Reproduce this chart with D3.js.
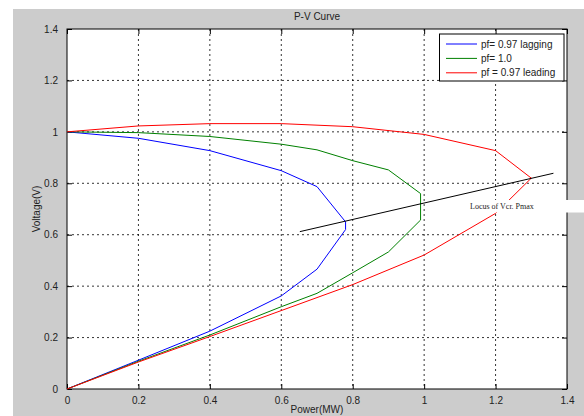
<!DOCTYPE html>
<html>
<head>
<meta charset="utf-8">
<script src="https://cdn.jsdelivr.net/npm/d3@7"></script>
<style>
  body { margin: 0; background: #fff; }
  text { font-family: Arial, "Liberation Sans", sans-serif; }
</style>
</head>
<body>
<div id="chart"></div>
<script>
// P (MW), V for each power factor
const lagP = [0, 0.2, 0.4, 0.6, 0.7, 0.78, 0.78, 0.7, 0.6, 0.4, 0.2, 0];
const lagV = [0, 0.112, 0.225, 0.362, 0.466, 0.62, 0.65, 0.787, 0.849, 0.927, 0.975, 1.0];

const unityP = [0, 0.2, 0.4, 0.6, 0.7, 0.8, 0.9, 0.99, 0.99, 0.9, 0.8, 0.7, 0.6, 0.4, 0.2, 0];
const unityV = [0, 0.108, 0.21, 0.32, 0.372, 0.452, 0.533, 0.657, 0.76, 0.852, 0.888, 0.93, 0.952, 0.982, 0.997, 1.0];

const leadP = [0, 0.2, 0.4, 0.6, 0.8, 1.0, 1.2, 1.3, 1.2, 1.0, 0.8, 0.6, 0.4, 0.2, 0];
const leadV = [0, 0.105, 0.204, 0.305, 0.406, 0.521, 0.683, 0.82, 0.927, 0.99, 1.02, 1.032, 1.032, 1.023, 1.0];

const locusP = [0.652, 1.362];
const locusV = [0.612, 0.839];

const seriesNames = ["pf= 0.97 lagging", "pf= 1.0", "pf = 0.97 leading"];
const seriesColors = ["#0000ff", "#008000", "#ff0000"];
const ticks = [0, 0.2, 0.4, 0.6, 0.8, 1, 1.2, 1.4];

const W = 584, H = 416;
const plot = { left: 67, right: 567, top: 29, bottom: 389 };

const svg = d3.select("#chart").append("svg").attr("width", W).attr("height", H);

// figure background
svg.append("rect").attr("x", 13).attr("y", 9).attr("width", W - 13).attr("height", H - 9).attr("fill", "#cccccc");
svg.append("rect").attr("x", plot.left).attr("y", plot.top)
  .attr("width", plot.right - plot.left).attr("height", plot.bottom - plot.top).attr("fill", "#fff");

const x = d3.scaleLinear().domain([0, 1.4]).range([plot.left, plot.right]);
const y = d3.scaleLinear().domain([0, 1.4]).range([plot.bottom, plot.top]);

// grid
const grid = svg.append("g").attr("stroke", "#000").attr("stroke-width", 0.8).attr("stroke-dasharray", "2,3");
grid.selectAll("line.gx").data(ticks.slice(1, -1)).enter().append("line")
  .attr("x1", d => x(d)).attr("x2", d => x(d)).attr("y1", plot.top).attr("y2", plot.bottom);
grid.selectAll("line.gy").data(ticks.slice(1, -1)).enter().append("line")
  .attr("y1", d => y(d)).attr("y2", d => y(d)).attr("x1", plot.left).attr("x2", plot.right);

// axes
const xAxis = svg.append("g").attr("transform", `translate(0,${plot.bottom})`)
  .call(d3.axisBottom(x).tickValues(ticks).tickFormat(d3.format("")).tickSizeInner(-5).tickSizeOuter(0).tickPadding(8));
const yAxis = svg.append("g").attr("transform", `translate(${plot.left},0)`)
  .call(d3.axisLeft(y).tickValues(ticks).tickFormat(d3.format("")).tickSizeInner(-5).tickSizeOuter(0).tickPadding(9));
[xAxis, yAxis].forEach(a => {
  a.select(".domain").remove();
  a.selectAll("text").attr("font-size", 10).attr("fill", "#222");
});

// frame
svg.append("rect").attr("x", plot.left).attr("y", plot.top)
  .attr("width", plot.right - plot.left).attr("height", plot.bottom - plot.top)
  .attr("fill", "none").attr("stroke", "#000").attr("stroke-width", 1);
svg.append("g").attr("transform", `translate(0,${plot.top})`)
  .call(d3.axisTop(x).tickValues(ticks).tickFormat("").tickSizeInner(-5).tickSizeOuter(0))
  .select(".domain").remove();
svg.append("g").attr("transform", `translate(${plot.right},0)`)
  .call(d3.axisRight(y).tickValues(ticks).tickFormat("").tickSizeInner(-5).tickSizeOuter(0))
  .select(".domain").remove();

// curves
const line = d3.line().x(d => x(d[0])).y(d => y(d[1]));
const series = [
  d3.zip(lagP, lagV),
  d3.zip(unityP, unityV),
  d3.zip(leadP, leadV)
];
series.forEach((pts, i) => {
  svg.append("path").datum(pts).attr("d", line)
    .attr("fill", "none").attr("stroke", seriesColors[i]).attr("stroke-width", 1);
});

// locus line
svg.append("path").datum(d3.zip(locusP, locusV)).attr("d", line)
  .attr("fill", "none").attr("stroke", "#000").attr("stroke-width", 1);

// annotation with white box
svg.append("rect").attr("x", 463).attr("y", 200).attr("width", W - 463).attr("height", 12.5).attr("fill", "#fff");
svg.append("text").attr("x", 470).attr("y", 208.5)
  .style("font-family", "'Liberation Serif', 'Times New Roman', serif").attr("font-size", 8).attr("fill", "#222")
  .text("Locus of Vcr. Pmax");

// title and labels
svg.append("text").attr("x", (plot.left + plot.right) / 2).attr("y", 20)
  .attr("text-anchor", "middle").attr("font-size", 10).attr("fill", "#222").text("P-V Curve");
svg.append("text").attr("x", (plot.left + plot.right) / 2).attr("y", 413)
  .attr("text-anchor", "middle").attr("font-size", 10).attr("fill", "#222").text("Power(MW)");
svg.append("text").attr("transform", `translate(40,${(plot.top + plot.bottom) / 2}) rotate(-90)`)
  .attr("text-anchor", "middle").attr("font-size", 10).attr("fill", "#222").text("Voltage(V)");

// legend
const lg = svg.append("g");
lg.append("rect").attr("x", 439.5).attr("y", 34).attr("width", 124.5).attr("height", 47)
  .attr("fill", "#fff").attr("stroke", "#000").attr("stroke-width", 1);
seriesNames.forEach((name, i) => {
  const yy = 44 + i * 14.4;
  lg.append("line").attr("x1", 446).attr("x2", 477).attr("y1", yy).attr("y2", yy)
    .attr("stroke", seriesColors[i]).attr("stroke-width", 1);
  lg.append("text").attr("x", 481).attr("y", yy + 3.5).attr("font-size", 10).attr("fill", "#222").text(name);
});
</script>
</body>
</html>
